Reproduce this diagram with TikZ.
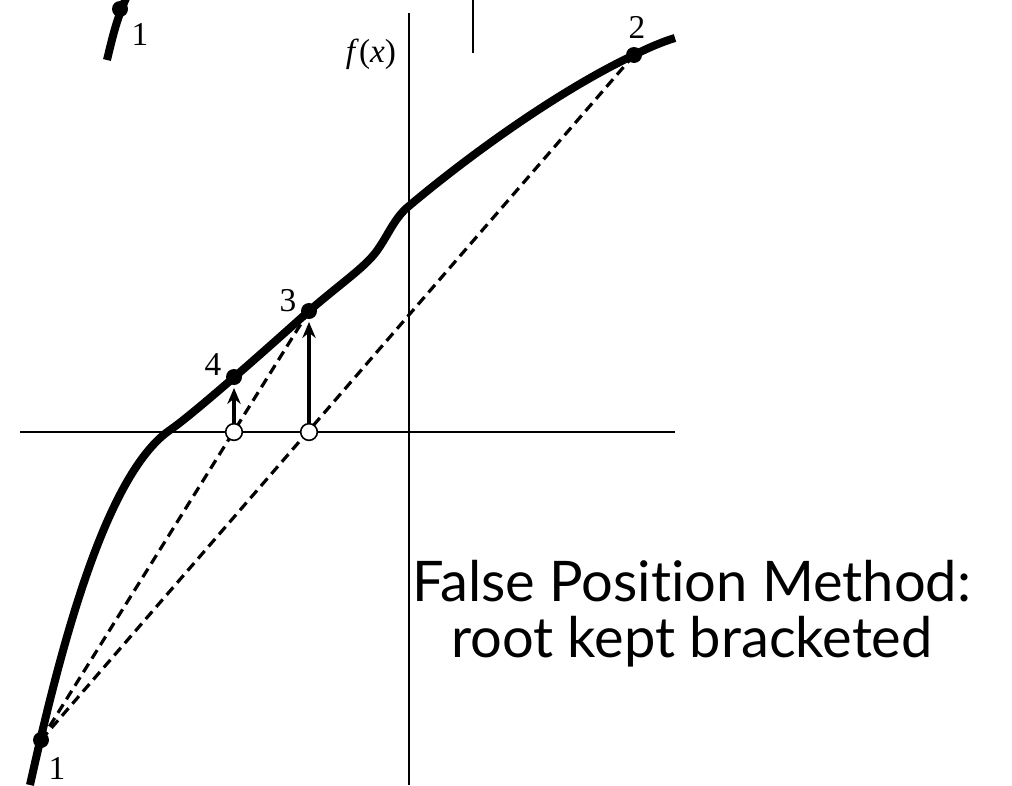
\documentclass[tikz,border=0pt]{standalone}
\usepackage{fontspec}
\setmainfont{Liberation Serif}
\newfontfamily\fptitlefont[Ligatures=NoCommon]{Lato}
\usepackage{xcolor}
\usepackage{tikz}
\usetikzlibrary{positioning, arrows.meta, calc}
\definecolor{fpink}{HTML}{000000}
\definecolor{fppaper}{HTML}{FFFFFF}

\begin{document}
\begin{tikzpicture}[x=0.75pt, y=-0.75pt,
  axisstyle/.style={draw=fpink, line width=1.1pt},
  curvestyle/.style={draw=fpink, line width=6pt},
  chordstyle/.style={draw=fpink, line width=2.4pt, dash pattern=on 7.5pt off 4.5pt},
  dotnode/.style={circle, fill=fpink, minimum size=12pt, inner sep=0pt},
  holenode/.style={circle, draw=fpink, fill=fppaper, line width=1.2pt,
                   minimum size=12.5pt, inner sep=0pt},
  labelnode/.style={font=\fontsize{25}{30}\selectfont, text=fpink, inner sep=0pt},
  arrowstyle/.style={-{Stealth[length=12pt, width=10pt]}, draw=fpink,
                     line width=2.4pt, shorten >=2pt}
]
\useasboundingbox (0,0) rectangle (1012,785);

% axes
\coordinate (xl) at (20,432);
\coordinate (xr) at (675,432);
\coordinate (yt) at (409,13);
\coordinate (yb) at (409,785);
\draw[axisstyle] (xl) -- (xr);
\draw[axisstyle] (yt) -- (yb);
\coordinate (st) at (473,0);
\coordinate (sb) at (473,53);
\draw[axisstyle] (st) -- (sb);
\node[labelnode] (fx) at (371,54) {\itshape f\/\upshape(\itshape x\/\upshape)};

% the function
\draw[curvestyle] (30,785) .. controls (60,650) and (105,475) .. (170,430)
  .. controls (192,415) and (260,355) .. (309,311)
  .. controls (340,284) and (364,268) .. (376,252)
  .. controls (388,236) and (394,218) .. (409,206)
  .. controls (466,158) and (556,92) .. (634,55)
  .. controls (652,46) and (665,41) .. (675,38);
\begin{scope}
  \clip (0,0) rectangle (1012,785);
  \draw[curvestyle] (107,60) .. controls (113,35) and (117,18) .. (127,-4);
\end{scope}
\node[dotnode] (p0) at (120,9) {};

% points on the curve
\foreach \n/\x/\y in {1/41/740, 2/634/55, 3/309/311, 4/234/377} {
  \node[dotnode] (p\n) at (\x,\y) {};
}

% false position chords
\draw[chordstyle] (p1.center) -- (p2.center);
\draw[chordstyle] (p1.center) -- (p3.center);

% new estimates on the axis
\foreach \n/\x in {3/309, 4/234} {
  \node[holenode] (q\n) at (\x,432) {};
  \draw[arrowstyle] (q\n) -- (p\n);
}

% labels
\foreach \t/\x/\y in {1/57/768, 2/637/27, 3/288/301, 4/213/365, 1/140/34} {
  \node[labelnode] at (\x,\y) {\t};
}

\node[font=\fptitlefont\fontsize{42}{42}\selectfont, align=center,
      text=fpink, inner sep=0pt] (title) at (692,614)
  {False Position Method:\\root kept bracketed};
\end{tikzpicture}
\end{document}
